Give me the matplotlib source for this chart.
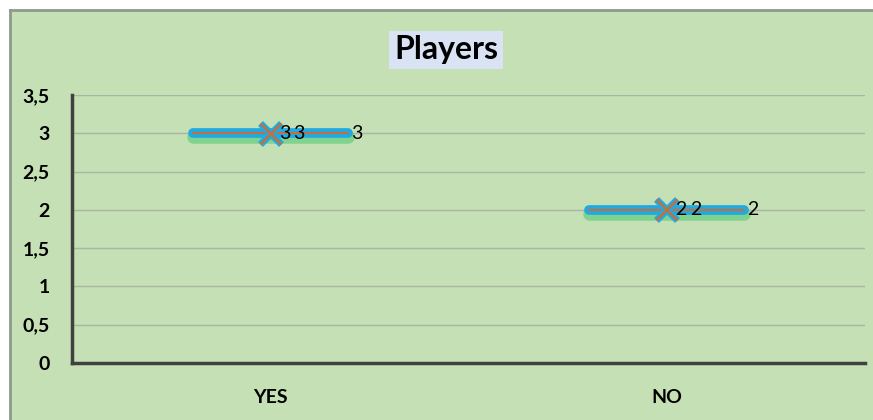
import matplotlib.pyplot as plt
import matplotlib.patheffects as pe
from matplotlib.patches import Rectangle
from matplotlib.ticker import FuncFormatter

categories = ["YES", "NO"]
values = [3, 2]
half_span = 0.195
yticks = [0, 0.5, 1, 1.5, 2, 2.5, 3, 3.5]

plt.rcParams['font.family'] = ['Lato', 'DejaVu Sans']

fig = plt.figure(figsize=(8.73, 4.2), dpi=100)
fig.patch.set_facecolor("white")
bg = Rectangle((10 / 873, 0), 1, 1 - 10 / 420, transform=fig.transFigure,
               facecolor="#C5E0B4", edgecolor="none", zorder=-10)
fig.patches.append(bg)
fig.add_artist(plt.Line2D([10 / 873, 10 / 873], [0, 1 - 10 / 420], color="#8E9A8A", lw=2))
fig.add_artist(plt.Line2D([10 / 873, 1], [1 - 10 / 420, 1 - 10 / 420], color="#8E9A8A", lw=2))

ax = fig.add_axes([72 / 873, 57 / 420, (865 - 72) / 873, (363 - 95) / 420])
ax.set_facecolor("none")
ax.set_xlim(-0.5, 1.5)
ax.set_ylim(0, 3.5)
ax.set_yticks(yticks)
ax.yaxis.set_major_formatter(FuncFormatter(lambda v, p: f"{v:g}".replace(".", ",")))
ax.set_xticks(range(len(categories)))
ax.set_xticklabels(categories)
ax.grid(axis="y", color="#A9B5A5", lw=1)
ax.set_axisbelow(True)
for s in ["top", "right"]:
    ax.spines[s].set_visible(False)
for s in ["left", "bottom"]:
    ax.spines[s].set_color("#404040")
    ax.spines[s].set_linewidth(2.5)
ax.tick_params(length=0, labelsize=14, pad=16)
ax.tick_params(axis="x", pad=19)
for lbl in ax.get_xticklabels() + ax.get_yticklabels():
    lbl.set_fontweight("bold")

glow = [pe.SimpleLineShadow(offset=(0, -3), shadow_color="#3CC86A", alpha=0.5, linewidth=9),
        pe.Stroke(linewidth=7, foreground="#21A9E1"), pe.Normal()]
for i, v in enumerate(values):
    ax.plot([i - half_span, i + half_span], [v, v], color="#C2703E", lw=1.5,
            solid_capstyle="round", path_effects=glow, zorder=3)
    ax.plot([i], [v], marker="x", color="#C2703E", markersize=15, mew=1.8,
            path_effects=[pe.Stroke(linewidth=5, foreground="#21A9E1"), pe.Normal()], zorder=4)
    ax.text(i + 0.022, v, f"{v}", fontsize=14, va="center", ha="left", zorder=5)
    ax.text(i + 0.058, v, f"{v}", fontsize=14, va="center", ha="left", zorder=5)
    ax.text(i + half_span + 0.008, v, f"{v}", fontsize=14, va="center", ha="left", zorder=5)

fig.text(446 / 873, 1 - 50 / 420, "Players", fontsize=23, fontweight="bold", ha="center", va="center",
         bbox=dict(boxstyle="square,pad=0.15", facecolor="#DAE3F3", edgecolor="none"))

fig.savefig("out.png", dpi=100)
